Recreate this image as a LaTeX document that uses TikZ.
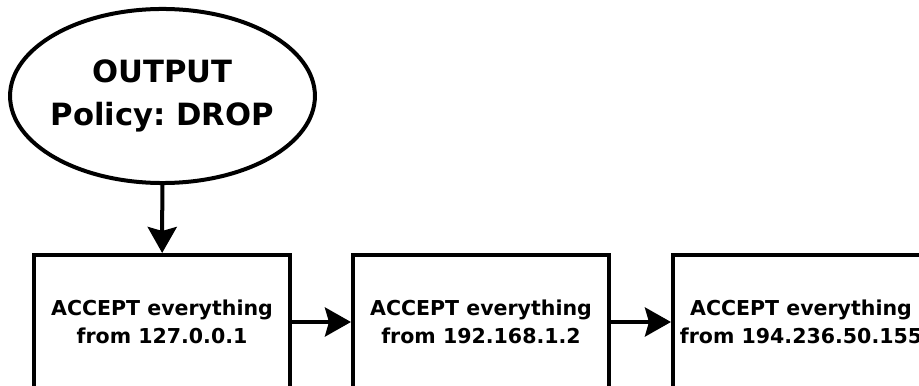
\documentclass[tikz,border=0pt]{standalone}
\usepackage{fontspec}
\setmainfont{DejaVu Sans}
\usepackage{tikz}
\usetikzlibrary{shapes,arrows.meta,positioning,calc}
\frenchspacing

\begin{document}
\begin{tikzpicture}[x=0.025cm,y=-0.025cm,line width=0.1cm,
            chain/.style={ellipse,draw=black,inner xsep=-3pt,inner ysep=0pt,minimum width=7.62cm,minimum height=4.35cm,align=center,font=\fontsize{21.8pt}{30.6pt}\selectfont\bfseries},
            rulebox/.style={rectangle,draw=black,inner sep=0pt,minimum width=6.4cm,minimum height=3.35cm,align=center,font=\fontsize{14.6pt}{19.6pt}\selectfont\bfseries},
            flow/.style={-{Stealth[length=0.65cm,width=0.725cm,inset=0.1cm]}}]
            \useasboundingbox (0,0) rectangle (919,386);
            \node[chain] (output) at (162.5,96) {OUTPUT\\Policy: DROP};
            \node[rulebox] (lo) at (162,322) {ACCEPT everything\\from 127.0.0.1};
            \node[rulebox] (lan) at (481,322) {ACCEPT everything\\from 192.168.1.2};
            \node[rulebox] (ext) at (801,322) {ACCEPT everything\\from 194.236.50.155};
            \draw[flow] (output) -- (lo);
            \draw[flow] (lo) -- (lan);
            \draw[flow] (lan) -- (ext);
        \end{tikzpicture}
\end{document}
